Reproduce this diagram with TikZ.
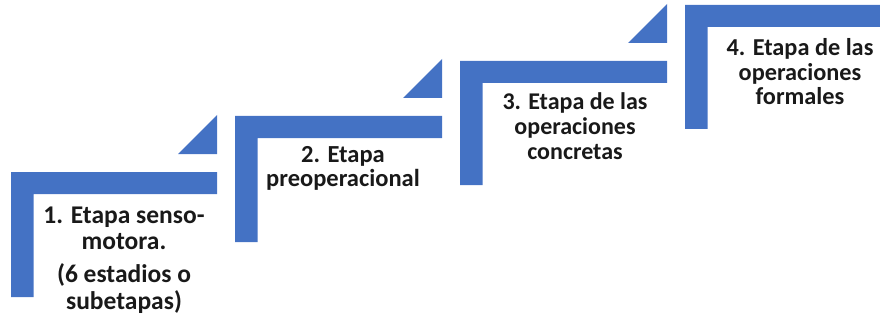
\documentclass[tikz,border=0pt]{standalone}
\usepackage{fontspec}
\setmainfont{Carlito}
\definecolor{stepblue}{HTML}{4472C4}
\tikzset{
  stepshape/.style={fill=stepblue, draw=none},
  steplabel/.style={anchor=base, inner sep=0pt, font=\bfseries, text=black!90},
}
\newcommand{\lshape}[5]{% name, L, T, R, B
  \fill[stepshape] (#2,#3) -- (#4,#3) -- (#4,#3+22) -- (#2+22.5,#3+22) -- (#2+22.5,#5) -- (#2,#5) -- cycle;
}
\newcommand{\stepbody}[3]{{\fontsize{#2}{#1}\selectfont\setlength{\tabcolsep}{0pt}\renewcommand{\arraystretch}{1}\begin{tabular}[t]{c}#3\end{tabular}}}
\begin{document}
\begin{tikzpicture}[x=1pt,y=-1pt]
\useasboundingbox (0,0) rectangle (880,326);
% L shapes
\lshape{s1}{11}{172}{217}{297}
\lshape{s2}{235}{116}{442}{242}
\lshape{s3}{460}{61}{667}{185}
\lshape{s4}{685}{5}{880}{129}
% triangles
\fill[stepshape] (217,115) -- (217,154) -- (178,154) -- cycle;
\fill[stepshape] (442,59) -- (442,98) -- (403,98) -- cycle;
\fill[stepshape] (667,4) -- (667,43) -- (628,43) -- cycle;
% labels
\node[steplabel] (t1) at (124,223) {\stepbody{26}{25.5}{1. Etapa senso-\\motora.\\[7pt](6 estadios o\\subetapas)}};
\node[steplabel] (t2) at (343,162) {\stepbody{23}{24.5}{2. Etapa\\preoperacional}};
\node[steplabel] (t3) at (575,110) {\stepbody{25}{24}{3. Etapa de las\\operaciones\\concretas}};
\node[steplabel] (t4) at (800,56) {\stepbody{24}{24.3}{4. Etapa de las\\operaciones\\formales}};
\end{tikzpicture}
\end{document}
